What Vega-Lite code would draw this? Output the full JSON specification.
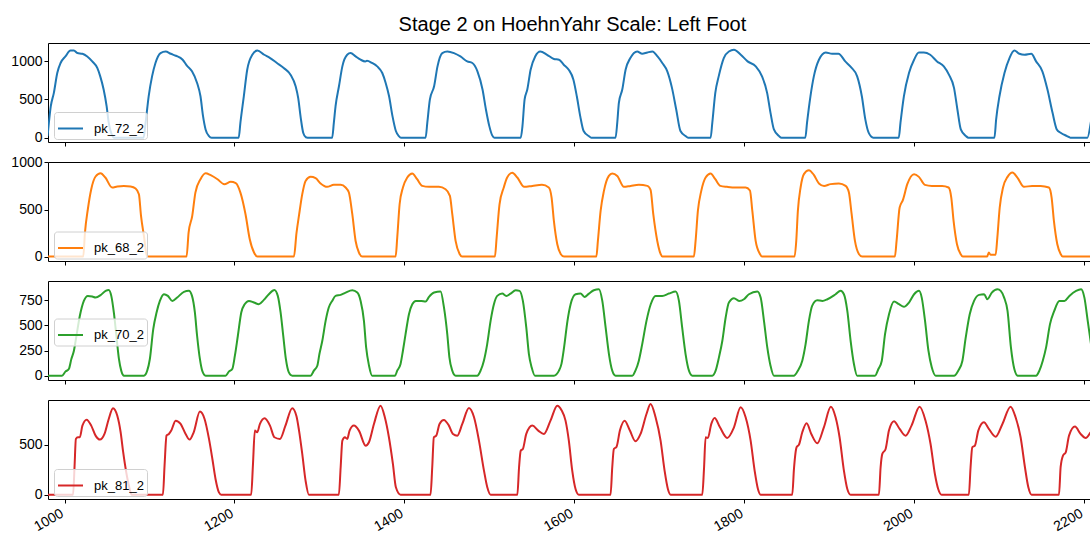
{
"$schema": "https://vega.github.io/schema/vega-lite/v6.json",
"background": "white",
"padding": {"left": 10, "top": 14, "right": 0, "bottom": 0},
"title": {"text": "Stage 2 on HoehnYahr Scale: Left Foot", "font": "Liberation Sans", "fontSize": 20, "fontWeight": "normal", "color": "black", "anchor": "middle", "offset": 8, "dx": 18},
"config": {
  "view": {"stroke": "black", "strokeWidth": 1},
  "axis": {"labelFont": "Liberation Sans", "labelFontSize": 14, "labelColor": "black", "tickColor": "black", "tickSize": 4, "labelPadding": 2, "grid": false, "domain": false, "title": null, "format": "d"},
  "legend": {"orient": "none", "legendX": 6, "title": null, "symbolType": "stroke", "symbolStrokeWidth": 2, "symbolSize": 625, "labelFont": "Liberation Sans", "labelFontSize": 13, "labelColor": "black", "labelOffset": 10, "padding": 3, "strokeColor": "#d0d0d0", "fillColor": "rgba(255,255,255,0.8)", "cornerRadius": 3}
},
"datasets": {
"a": [
{"x":980,"y":20},{"x":983.8,"y":412},{"x":987.4,"y":587},{"x":991.4,"y":847},{"x":995.3,"y":978},{"x":1001,"y":1064},{"x":1007,"y":1142},{"x":1011,"y":1142},{"x":1015,"y":1108},{"x":1021,"y":1099},{"x":1026.7,"y":1064},{"x":1032.6,"y":999},{"x":1038.5,"y":913},{"x":1042,"y":803},{"x":1046,"y":630},{"x":1049.5,"y":412},{"x":1052,"y":196},{"x":1056,"y":30},{"x":1058,"y":0},{"x":1093,"y":0},
{"x":1095.4,"y":196},{"x":1099,"y":542},{"x":1103,"y":803},{"x":1107,"y":978},{"x":1113,"y":1108},{"x":1119,"y":1129},{"x":1125,"y":1099},{"x":1131,"y":1073},{"x":1139,"y":1021},{"x":1144,"y":943},{"x":1150,"y":869},{"x":1156,"y":717},{"x":1160,"y":542},{"x":1163,"y":282},{"x":1166,"y":108},{"x":1170,"y":21},{"x":1173,"y":0},{"x":1205,"y":0},
{"x":1207,"y":196},{"x":1211,"y":542},{"x":1215,"y":890},{"x":1221,"y":1086},{"x":1227,"y":1142},{"x":1235,"y":1086},{"x":1242,"y":1043},{"x":1250,"y":978},{"x":1258,"y":913},{"x":1266,"y":825},{"x":1272,"y":673},{"x":1275,"y":520},{"x":1278,"y":260},{"x":1281,"y":60},{"x":1284,"y":5},{"x":1286,"y":0},{"x":1315,"y":0},
{"x":1317,"y":196},{"x":1319,"y":412},{"x":1323,"y":673},{"x":1327,"y":934},{"x":1332.7,"y":1086},{"x":1336.7,"y":1108},{"x":1342.6,"y":1064},{"x":1348.5,"y":1021},{"x":1354,"y":999},{"x":1356,"y":1008},{"x":1362,"y":978},{"x":1368,"y":934},{"x":1374,"y":847},{"x":1378,"y":717},{"x":1382,"y":542},{"x":1386,"y":282},{"x":1390,"y":87},{"x":1393.5,"y":21},{"x":1396,"y":0},{"x":1425,"y":0},
{"x":1427,"y":196},{"x":1430,"y":499},{"x":1435,"y":673},{"x":1439,"y":934},{"x":1444.6,"y":1108},{"x":1450.6,"y":1129},{"x":1458.4,"y":1108},{"x":1466,"y":1064},{"x":1474,"y":999},{"x":1480,"y":978},{"x":1486,"y":869},{"x":1492,"y":630},{"x":1496,"y":369},{"x":1500,"y":151},{"x":1503.4,"y":30},{"x":1506,"y":0},{"x":1537,"y":0},
{"x":1539,"y":151},{"x":1541.5,"y":499},{"x":1544.7,"y":630},{"x":1548.6,"y":890},{"x":1554,"y":1064},{"x":1560,"y":1129},{"x":1568,"y":1086},{"x":1576,"y":1030},{"x":1582,"y":1021},{"x":1587.6,"y":956},{"x":1593.5,"y":890},{"x":1599,"y":760},{"x":1603,"y":542},{"x":1607,"y":282},{"x":1611,"y":87},{"x":1617,"y":21},{"x":1620,"y":0},{"x":1648.6,"y":0},
{"x":1650.6,"y":196},{"x":1652.5,"y":456},{"x":1656.5,"y":630},{"x":1660.4,"y":890},{"x":1666,"y":1043},{"x":1674,"y":1129},{"x":1680,"y":1099},{"x":1686,"y":1116},{"x":1692,"y":1129},{"x":1698,"y":1064},{"x":1703.6,"y":978},{"x":1709.5,"y":869},{"x":1715,"y":652},{"x":1720,"y":369},{"x":1725,"y":87},{"x":1731,"y":21},{"x":1734,"y":0},{"x":1760.5,"y":0},
{"x":1762.5,"y":196},{"x":1766,"y":587},{"x":1770,"y":803},{"x":1776,"y":1043},{"x":1782,"y":1129},{"x":1788,"y":1151},{"x":1796,"y":1086},{"x":1804,"y":999},{"x":1813.6,"y":934},{"x":1821,"y":803},{"x":1827,"y":587},{"x":1831,"y":325},{"x":1835,"y":108},{"x":1841,"y":21},{"x":1844,"y":0},{"x":1872,"y":0},
{"x":1874,"y":196},{"x":1878,"y":542},{"x":1882,"y":803},{"x":1888,"y":1021},{"x":1896,"y":1116},{"x":1903.5,"y":1099},{"x":1911,"y":1099},{"x":1919,"y":999},{"x":1926,"y":920},{"x":1933,"y":803},{"x":1938.5,"y":542},{"x":1942.6,"y":239},{"x":1946.5,"y":65},{"x":1952,"y":0},{"x":1982,"y":0},
{"x":1984,"y":196},{"x":1988,"y":542},{"x":1994,"y":847},{"x":2000,"y":1021},{"x":2005.6,"y":1116},{"x":2011.5,"y":1116},{"x":2019,"y":1086},{"x":2027,"y":999},{"x":2035,"y":934},{"x":2041,"y":825},{"x":2047,"y":652},{"x":2051,"y":369},{"x":2055,"y":108},{"x":2061,"y":21},{"x":2064,"y":0},{"x":2094.6,"y":0},
{"x":2096.6,"y":239},{"x":2100.5,"y":542},{"x":2106.4,"y":847},{"x":2112.3,"y":1043},{"x":2118,"y":1142},{"x":2124,"y":1099},{"x":2130,"y":1086},{"x":2138,"y":1099},{"x":2143.6,"y":999},{"x":2151,"y":869},{"x":2157,"y":630},{"x":2163,"y":325},{"x":2168,"y":108},{"x":2172.5,"y":65},{"x":2180,"y":21},{"x":2184,"y":0},{"x":2204,"y":0},{"x":2208,"y":196},{"x":2212,"y":550},{"x":2216,"y":850}
],
"b": [
{"x":980,"y":0},{"x":1022,"y":0},{"x":1024,"y":255},{"x":1027.4,"y":503},{"x":1031.4,"y":716},{"x":1036.5,"y":851},{"x":1042.4,"y":886},{"x":1048,"y":840},{"x":1056,"y":734},{"x":1062,"y":745},{"x":1069.8,"y":751},{"x":1077.7,"y":745},{"x":1083.6,"y":723},{"x":1087.5,"y":663},{"x":1090,"y":432},{"x":1093.4,"y":219},{"x":1097,"y":6},{"x":1099,"y":0},{"x":1143.6,"y":0},
{"x":1146,"y":255},{"x":1150.3,"y":432},{"x":1154,"y":680},{"x":1160,"y":822},{"x":1166,"y":886},{"x":1172,"y":865},{"x":1180,"y":822},{"x":1188,"y":769},{"x":1195.6,"y":794},{"x":1201.5,"y":780},{"x":1207,"y":680},{"x":1213,"y":450},{"x":1218,"y":184},{"x":1223,"y":43},{"x":1227,"y":0},{"x":1270,"y":0},
{"x":1273,"y":250},{"x":1276,"y":440},{"x":1279.8,"y":663},{"x":1283.7,"y":804},{"x":1289.6,"y":847},{"x":1295.5,"y":833},{"x":1301.4,"y":777},{"x":1309,"y":741},{"x":1317,"y":762},{"x":1325,"y":762},{"x":1330.8,"y":734},{"x":1334.7,"y":681},{"x":1338.7,"y":450},{"x":1342.6,"y":166},{"x":1346.5,"y":43},{"x":1350.5,"y":0},{"x":1389.7,"y":0},
{"x":1391.6,"y":202},{"x":1394.4,"y":556},{"x":1398.3,"y":734},{"x":1403.4,"y":840},{"x":1409.3,"y":883},{"x":1415,"y":822},{"x":1421,"y":751},{"x":1429,"y":741},{"x":1440.6,"y":741},{"x":1448.5,"y":716},{"x":1453.6,"y":645},{"x":1456.4,"y":450},{"x":1460.3,"y":166},{"x":1465,"y":28},{"x":1468,"y":0},{"x":1506.6,"y":0},
{"x":1508.6,"y":202},{"x":1512,"y":556},{"x":1517,"y":734},{"x":1521,"y":840},{"x":1527,"y":890},{"x":1533,"y":840},{"x":1541,"y":741},{"x":1550.6,"y":751},{"x":1562,"y":762},{"x":1570,"y":734},{"x":1573.3,"y":627},{"x":1576,"y":379},{"x":1580,"y":131},{"x":1584,"y":28},{"x":1588,"y":0},{"x":1626,"y":0},
{"x":1627.8,"y":166},{"x":1631,"y":485},{"x":1634.9,"y":698},{"x":1640.7,"y":857},{"x":1644.7,"y":883},{"x":1650.6,"y":857},{"x":1658.4,"y":741},{"x":1666.3,"y":751},{"x":1676,"y":762},{"x":1686,"y":751},{"x":1689.8,"y":709},{"x":1693,"y":450},{"x":1697.7,"y":166},{"x":1701.6,"y":28},{"x":1703.6,"y":0},{"x":1740.8,"y":0},
{"x":1742.8,"y":166},{"x":1745.5,"y":485},{"x":1749.5,"y":698},{"x":1754.6,"y":840},{"x":1760.5,"y":883},{"x":1766,"y":822},{"x":1772,"y":751},{"x":1780,"y":741},{"x":1790,"y":734},{"x":1801.7,"y":734},{"x":1806.8,"y":702},{"x":1809.6,"y":485},{"x":1813.5,"y":166},{"x":1818.5,"y":28},{"x":1821,"y":0},{"x":1859.3,"y":0},
{"x":1861.3,"y":166},{"x":1863.2,"y":485},{"x":1866.4,"y":734},{"x":1870.3,"y":876},{"x":1876.2,"y":918},{"x":1882,"y":868},{"x":1888,"y":777},{"x":1894,"y":751},{"x":1901.7,"y":770},{"x":1911.5,"y":777},{"x":1919.4,"y":751},{"x":1923.3,"y":681},{"x":1926.5,"y":450},{"x":1930.4,"y":166},{"x":1935,"y":28},{"x":1939,"y":0},{"x":1977.4,"y":0},
{"x":1979.4,"y":166},{"x":1983,"y":521},{"x":1986.9,"y":603},{"x":1992,"y":769},{"x":2000,"y":876},{"x":2005.7,"y":847},{"x":2012.7,"y":762},{"x":2021,"y":751},{"x":2033,"y":751},{"x":2040.6,"y":734},{"x":2043.8,"y":627},{"x":2046.5,"y":379},{"x":2050.5,"y":131},{"x":2054.7,"y":28},{"x":2057.4,"y":0},{"x":2086,"y":0},{"x":2088,"y":43},{"x":2090,"y":20},{"x":2096,"y":20},
{"x":2098,"y":202},{"x":2100.8,"y":521},{"x":2104.7,"y":734},{"x":2110,"y":847},{"x":2115.8,"y":893},{"x":2121.6,"y":840},{"x":2129.4,"y":741},{"x":2139,"y":751},{"x":2149,"y":751},{"x":2158.7,"y":734},{"x":2161.9,"y":627},{"x":2164.6,"y":379},{"x":2168.6,"y":131},{"x":2172.5,"y":28},{"x":2175,"y":0},{"x":2216,"y":0}
],
"c": [
{"x":980,"y":0},{"x":997,"y":0},{"x":1001,"y":40},{"x":1005,"y":66},{"x":1008,"y":166},{"x":1011,"y":248},{"x":1014,"y":397},{"x":1018,"y":595},{"x":1022.7,"y":743},{"x":1027.4,"y":793},{"x":1032.6,"y":787},{"x":1036.5,"y":777},{"x":1042.4,"y":800},{"x":1048.3,"y":843},{"x":1052,"y":852},{"x":1055,"y":793},{"x":1058,"y":628},{"x":1061,"y":397},{"x":1064,"y":166},{"x":1066.7,"y":50},{"x":1070,"y":0},{"x":1093.4,"y":0},
{"x":1097.3,"y":50},{"x":1100.4,"y":166},{"x":1104.4,"y":463},{"x":1108.3,"y":628},{"x":1112.2,"y":743},{"x":1117,"y":810},{"x":1121.6,"y":793},{"x":1126.8,"y":743},{"x":1132.6,"y":777},{"x":1140.5,"y":833},{"x":1146.3,"y":843},{"x":1150,"y":793},{"x":1153.4,"y":628},{"x":1156,"y":397},{"x":1159.3,"y":166},{"x":1162,"y":50},{"x":1166,"y":0},{"x":1189.5,"y":0},
{"x":1193.4,"y":40},{"x":1197.4,"y":66},{"x":1200.5,"y":199},{"x":1204,"y":397},{"x":1208,"y":628},{"x":1212,"y":710},{"x":1217,"y":743},{"x":1223,"y":727},{"x":1228.7,"y":710},{"x":1234.6,"y":753},{"x":1240.5,"y":810},{"x":1247,"y":852},{"x":1251,"y":793},{"x":1254.3,"y":628},{"x":1257.4,"y":397},{"x":1260.5,"y":166},{"x":1264,"y":33},{"x":1268,"y":0},{"x":1289.6,"y":0},
{"x":1293.5,"y":50},{"x":1297.5,"y":99},{"x":1300,"y":215},{"x":1303.4,"y":347},{"x":1307.3,"y":545},{"x":1311,"y":678},{"x":1315,"y":743},{"x":1319,"y":793},{"x":1325,"y":803},{"x":1330.8,"y":826},{"x":1338.7,"y":849},{"x":1344.6,"y":826},{"x":1348.5,"y":743},{"x":1352.4,"y":545},{"x":1355,"y":281},{"x":1358.4,"y":99},{"x":1362,"y":0},{"x":1389,"y":0},
{"x":1391.6,"y":50},{"x":1395.5,"y":116},{"x":1398.3,"y":248},{"x":1401.4,"y":413},{"x":1405.4,"y":611},{"x":1409.3,"y":710},{"x":1413.5,"y":743},{"x":1420,"y":743},{"x":1425,"y":737},{"x":1429,"y":783},{"x":1435,"y":826},{"x":1442.6,"y":836},{"x":1446.6,"y":678},{"x":1450.5,"y":413},{"x":1453,"y":182},{"x":1456.4,"y":50},{"x":1460.3,"y":0},{"x":1485.8,"y":0},
{"x":1489.7,"y":50},{"x":1493.6,"y":149},{"x":1497.5,"y":314},{"x":1501.5,"y":545},{"x":1505.4,"y":710},{"x":1509.3,"y":793},{"x":1515.2,"y":816},{"x":1520,"y":793},{"x":1525,"y":816},{"x":1531,"y":849},{"x":1535.6,"y":843},{"x":1539.5,"y":743},{"x":1543.5,"y":479},{"x":1546.6,"y":215},{"x":1549.8,"y":83},{"x":1553.7,"y":0},{"x":1576,"y":0},
{"x":1582,"y":50},{"x":1585,"y":120},{"x":1588,"y":281},{"x":1592,"y":545},{"x":1595.7,"y":710},{"x":1601.6,"y":809},{"x":1607.4,"y":816},{"x":1612,"y":783},{"x":1617.3,"y":816},{"x":1623,"y":849},{"x":1629,"y":859},{"x":1633,"y":743},{"x":1636.9,"y":479},{"x":1640.8,"y":215},{"x":1644.7,"y":50},{"x":1648.6,"y":0},{"x":1668.3,"y":0},
{"x":1672,"y":50},{"x":1676,"y":149},{"x":1680,"y":314},{"x":1685,"y":545},{"x":1690,"y":710},{"x":1695.7,"y":793},{"x":1703.6,"y":793},{"x":1711.4,"y":816},{"x":1719.3,"y":836},{"x":1723.2,"y":743},{"x":1727,"y":479},{"x":1731,"y":215},{"x":1735,"y":50},{"x":1739,"y":0},{"x":1762.5,"y":0},
{"x":1766.4,"y":50},{"x":1770.3,"y":182},{"x":1774.3,"y":347},{"x":1778.2,"y":578},{"x":1782,"y":727},{"x":1788,"y":770},{"x":1794,"y":743},{"x":1799.7,"y":760},{"x":1805.6,"y":809},{"x":1815.5,"y":836},{"x":1819.4,"y":776},{"x":1823.3,"y":545},{"x":1827.2,"y":281},{"x":1831,"y":99},{"x":1835,"y":0},{"x":1858.4,"y":0},
{"x":1863.2,"y":50},{"x":1868.4,"y":149},{"x":1872.3,"y":314},{"x":1876.2,"y":545},{"x":1880,"y":694},{"x":1886,"y":750},{"x":1892,"y":743},{"x":1898,"y":760},{"x":1907.6,"y":809},{"x":1913.5,"y":843},{"x":1917.4,"y":809},{"x":1921.4,"y":644},{"x":1925.3,"y":347},{"x":1929.2,"y":116},{"x":1933,"y":0},{"x":1954,"y":0},
{"x":1958,"y":66},{"x":1962,"y":149},{"x":1965.8,"y":413},{"x":1970.5,"y":611},{"x":1976.4,"y":737},{"x":1982.3,"y":710},{"x":1988,"y":684},{"x":1994,"y":727},{"x":2000,"y":809},{"x":2005.8,"y":843},{"x":2009,"y":776},{"x":2012.9,"y":545},{"x":2016.9,"y":248},{"x":2020.8,"y":83},{"x":2025.4,"y":0},{"x":2047,"y":0},
{"x":2052,"y":50},{"x":2056.9,"y":149},{"x":2060.8,"y":380},{"x":2065.5,"y":611},{"x":2070.6,"y":743},{"x":2076.5,"y":803},{"x":2082.4,"y":809},{"x":2086.3,"y":760},{"x":2091.5,"y":826},{"x":2098.2,"y":859},{"x":2102,"y":843},{"x":2106,"y":776},{"x":2110,"y":644},{"x":2114,"y":281},{"x":2118,"y":66},{"x":2122,"y":0},{"x":2143.6,"y":0},
{"x":2147.5,"y":50},{"x":2151.5,"y":149},{"x":2155.4,"y":281},{"x":2160,"y":512},{"x":2165,"y":644},{"x":2171,"y":743},{"x":2177,"y":743},{"x":2182.8,"y":793},{"x":2190.7,"y":843},{"x":2196.6,"y":859},{"x":2200.5,"y":776},{"x":2204.4,"y":545},{"x":2208.3,"y":314},{"x":2212,"y":120},{"x":2216,"y":20}
],
"d": [
{"x":980,"y":0},{"x":1010,"y":0},{"x":1011.8,"y":292},{"x":1013.3,"y":561},{"x":1015.7,"y":578},{"x":1018,"y":578},{"x":1021,"y":695},{"x":1026,"y":755},{"x":1031.4,"y":695},{"x":1036.5,"y":594},{"x":1041.6,"y":554},{"x":1047,"y":611},{"x":1052,"y":762},{"x":1057,"y":870},{"x":1062,"y":796},{"x":1066,"y":628},{"x":1069,"y":427},{"x":1072.6,"y":225},{"x":1075.7,"y":91},{"x":1079,"y":0},{"x":1115.8,"y":0},
{"x":1117.7,"y":292},{"x":1120,"y":594},{"x":1122.8,"y":611},{"x":1125.6,"y":645},{"x":1130.7,"y":745},{"x":1136.6,"y":712},{"x":1142.5,"y":611},{"x":1147.2,"y":554},{"x":1152,"y":628},{"x":1159.3,"y":836},{"x":1164.8,"y":762},{"x":1170,"y":561},{"x":1174,"y":359},{"x":1177.7,"y":158},{"x":1181.7,"y":23},{"x":1184.4,"y":0},{"x":1219.7,"y":0},
{"x":1221.7,"y":292},{"x":1224,"y":645},{"x":1226.7,"y":628},{"x":1230,"y":712},{"x":1235.5,"y":769},{"x":1241.8,"y":695},{"x":1247,"y":578},{"x":1253.5,"y":561},{"x":1260,"y":695},{"x":1268,"y":870},{"x":1273,"y":790},{"x":1276,"y":645},{"x":1279.8,"y":410},{"x":1283.7,"y":141},{"x":1287.6,"y":0},{"x":1322.9,"y":0},
{"x":1325,"y":276},{"x":1327,"y":544},{"x":1330,"y":578},{"x":1332.8,"y":561},{"x":1335.5,"y":645},{"x":1340.6,"y":695},{"x":1346.5,"y":645},{"x":1354.4,"y":493},{"x":1358.3,"y":527},{"x":1364.2,"y":712},{"x":1372,"y":896},{"x":1377,"y":779},{"x":1381.8,"y":578},{"x":1386.5,"y":309},{"x":1390,"y":74},{"x":1395.5,"y":0},{"x":1430.8,"y":0},
{"x":1432.8,"y":276},{"x":1434.7,"y":578},{"x":1437.5,"y":594},{"x":1441.4,"y":712},{"x":1446.5,"y":752},{"x":1452.4,"y":695},{"x":1457.2,"y":611},{"x":1462.3,"y":594},{"x":1468.2,"y":712},{"x":1476,"y":873},{"x":1482,"y":779},{"x":1487.8,"y":544},{"x":1493.7,"y":242},{"x":1497.6,"y":74},{"x":1501.5,"y":0},{"x":1533,"y":0},
{"x":1535,"y":276},{"x":1537,"y":443},{"x":1539.5,"y":460},{"x":1543.5,"y":611},{"x":1550.6,"y":695},{"x":1557.6,"y":645},{"x":1564.2,"y":611},{"x":1572,"y":745},{"x":1580,"y":896},{"x":1585,"y":850},{"x":1589.7,"y":745},{"x":1593.6,"y":544},{"x":1597.6,"y":242},{"x":1601.5,"y":57},{"x":1605.4,"y":0},{"x":1642.7,"y":0},
{"x":1644.7,"y":276},{"x":1646.6,"y":460},{"x":1649.8,"y":483},{"x":1653.7,"y":645},{"x":1659.3,"y":745},{"x":1665.5,"y":645},{"x":1672,"y":537},{"x":1678,"y":611},{"x":1685,"y":812},{"x":1689.8,"y":913},{"x":1695.7,"y":779},{"x":1701.6,"y":544},{"x":1706.3,"y":242},{"x":1710.2,"y":57},{"x":1713.4,"y":0},{"x":1750.7,"y":0},
{"x":1752.7,"y":259},{"x":1754.6,"y":578},{"x":1757.3,"y":571},{"x":1761.3,"y":712},{"x":1765.2,"y":772},{"x":1771.5,"y":678},{"x":1780,"y":571},{"x":1788,"y":678},{"x":1795.8,"y":880},{"x":1801.7,"y":779},{"x":1807.6,"y":544},{"x":1812.3,"y":242},{"x":1816.2,"y":57},{"x":1819.3,"y":0},{"x":1856.6,"y":0},
{"x":1858.6,"y":259},{"x":1861.7,"y":477},{"x":1864.5,"y":504},{"x":1868.4,"y":628},{"x":1873.5,"y":719},{"x":1879,"y":611},{"x":1886,"y":517},{"x":1893.8,"y":678},{"x":1902,"y":886},{"x":1907.6,"y":779},{"x":1912.3,"y":578},{"x":1917.4,"y":242},{"x":1921.4,"y":57},{"x":1925.3,"y":0},{"x":1958.6,"y":0},
{"x":1960.6,"y":276},{"x":1962.6,"y":410},{"x":1966.5,"y":460},{"x":1970.4,"y":645},{"x":1976.3,"y":739},{"x":1983,"y":662},{"x":1990,"y":594},{"x":1997,"y":695},{"x":2006.5,"y":886},{"x":2013.5,"y":745},{"x":2019.4,"y":510},{"x":2024.5,"y":208},{"x":2028.4,"y":57},{"x":2032.4,"y":0},{"x":2064.5,"y":0},
{"x":2066.5,"y":276},{"x":2068.5,"y":477},{"x":2071.6,"y":494},{"x":2075.6,"y":645},{"x":2082.2,"y":729},{"x":2088,"y":662},{"x":2096,"y":584},{"x":2104,"y":712},{"x":2113.6,"y":886},{"x":2119.5,"y":779},{"x":2125.4,"y":578},{"x":2130.5,"y":276},{"x":2134.5,"y":74},{"x":2138.3,"y":0},{"x":2170.6,"y":0},
{"x":2172.5,"y":276},{"x":2175.3,"y":393},{"x":2178.5,"y":426},{"x":2182.4,"y":594},{"x":2189.4,"y":685},{"x":2196.1,"y":611},{"x":2202,"y":571},{"x":2207.8,"y":628},{"x":2212,"y":680},{"x":2216,"y":720}
]
},
"spacing": 20,
"bounds": "flush",
"resolve": {"scale": {"color": "independent", "y": "independent", "x": "independent"}, "legend": {"color": "independent"}},
"vconcat": [
{
  "width": 1050, "height": 99,
  "data": {"name": "a"},
  "mark": {"type": "line", "interpolate": "monotone", "strokeWidth": 2, "clip": true},
  "encoding": {
    "x": {"field": "x", "type": "quantitative", "scale": {"domain": [980.5, 2216.5], "nice": false, "zero": false}, "axis": {"values": [1000,1200,1400,1600,1800,2000,2200], "labels": false}},
    "y": {"field": "y", "type": "quantitative", "scale": {"domain": [-57, 1240], "nice": false, "zero": false}, "axis": {"values": [0,500,1000]}},
    "color": {"datum": "pk_72_2", "scale": {"range": ["#1f77b4"]}, "legend": {"legendY": 69}}
  }
},
{
  "width": 1050, "height": 99,
  "data": {"name": "b"},
  "mark": {"type": "line", "interpolate": "monotone", "strokeWidth": 2, "clip": true},
  "encoding": {
    "x": {"field": "x", "type": "quantitative", "scale": {"domain": [980.5, 2216.5], "nice": false, "zero": false}, "axis": {"values": [1000,1200,1400,1600,1800,2000,2200], "labels": false}},
    "y": {"field": "y", "type": "quantitative", "scale": {"domain": [-47, 1005], "nice": false, "zero": false}, "axis": {"values": [0,500,1000]}},
    "color": {"datum": "pk_68_2", "scale": {"range": ["#ff7f0e"]}, "legend": {"legendY": 69.5}}
  }
},
{
  "width": 1050, "height": 99,
  "data": {"name": "c"},
  "mark": {"type": "line", "interpolate": "monotone", "strokeWidth": 2, "clip": true},
  "encoding": {
    "x": {"field": "x", "type": "quantitative", "scale": {"domain": [980.5, 2216.5], "nice": false, "zero": false}, "axis": {"values": [1000,1200,1400,1600,1800,2000,2200], "labels": false}},
    "y": {"field": "y", "type": "quantitative", "scale": {"domain": [-43, 941], "nice": false, "zero": false}, "axis": {"values": [0,250,500,750]}},
    "color": {"datum": "pk_70_2", "scale": {"range": ["#2ca02c"]}, "legend": {"legendY": 37.5}}
  }
},
{
  "width": 1050, "height": 99,
  "data": {"name": "d"},
  "mark": {"type": "line", "interpolate": "monotone", "strokeWidth": 2, "clip": true},
  "encoding": {
    "x": {"field": "x", "type": "quantitative", "scale": {"domain": [980.5, 2216.5], "nice": false, "zero": false}, "axis": {"values": [1000,1200,1400,1600,1800,2000,2200], "labelAngle": -30, "labelAlign": "right", "labelBaseline": "top", "labelPadding": 3, "labelOffset": -6}},
    "y": {"field": "y", "type": "quantitative", "scale": {"domain": [-44, 953], "nice": false, "zero": false}, "axis": {"values": [0,500]}},
    "color": {"datum": "pk_81_2", "scale": {"range": ["#d62728"]}, "legend": {"legendY": 69}}
  }
}
]
}
